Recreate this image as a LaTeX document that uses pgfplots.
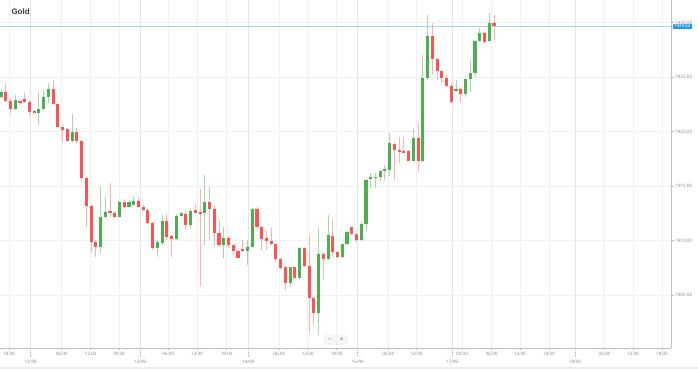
\documentclass[border=0pt]{standalone}
\usepackage{pgfplots}
\pgfplotsset{compat=1.18}
\usepackage{pgfplotstable}
\usepackage{fontspec}
\setmainfont{Noto Sans}
\newfontfamily\titlefont{Liberation Sans}

\definecolor{cred}{HTML}{FF5252}
\definecolor{cgreen}{HTML}{4CAF50}
\definecolor{credw}{HTML}{FFB0B0}
\definecolor{cgreenw}{HTML}{A8D8AA}
\definecolor{gridc}{HTML}{F0F0F0}
\definecolor{gridd}{HTML}{E4E4E4}
\definecolor{axc}{HTML}{BDBDBD}
\definecolor{tickc}{HTML}{8A8A8A}
\definecolor{pricel}{HTML}{A6D4F2}
\definecolor{priceb}{HTML}{2196F3}

% columns: index open high low close
\pgfplotstableread{
i o h l c
1 1923.65 1924.48 1922.73 1922.83
2 1922.83 1923.07 1921.70 1922.04
4 1922.83 1922.89 1922.52 1922.59
5 1922.95 1923.53 1922.61 1922.73
6 1922.73 1922.89 1921.51 1921.82
7 1921.88 1921.97 1921.65 1921.72
11 1923.90 1924.72 1922.43 1922.50
12 1922.50 1922.57 1920.41 1920.44
13 1920.44 1920.60 1919.06 1920.14
14 1920.20 1920.32 1919.04 1919.16
16 1919.98 1920.29 1918.94 1919.16
17 1919.16 1919.22 1915.39 1915.71
18 1915.76 1915.83 1911.27 1913.17
19 1913.17 1913.26 1908.85 1909.89
20 1909.89 1910.05 1908.51 1909.43
23 1912.71 1915.25 1912.18 1912.50
24 1912.55 1912.61 1912.04 1912.18
26 1913.56 1913.72 1912.95 1913.10
29 1913.65 1914.02 1912.98 1913.05
30 1913.10 1913.26 1912.71 1912.80
31 1912.80 1912.89 1911.51 1911.63
32 1911.63 1911.70 1909.13 1909.28
35 1911.82 1912.43 1910.05 1910.35
36 1910.41 1910.50 1908.51 1910.11
39 1912.43 1912.80 1910.96 1911.42
41 1912.80 1913.32 1912.50 1912.55
42 1912.59 1914.70 1905.83 1912.52
44 1913.56 1914.94 1910.05 1912.89
45 1912.89 1913.26 1909.43 1910.66
46 1910.66 1911.88 1909.43 1909.59
48 1910.26 1910.41 1909.28 1909.59
49 1909.59 1909.68 1908.67 1909.04
50 1909.06 1909.13 1908.35 1908.42
51 1909.19 1910.05 1908.99 1909.06
54 1912.86 1913.10 1910.96 1911.27
55 1911.27 1911.33 1909.13 1910.14
56 1910.20 1910.96 1909.13 1909.95
57 1909.95 1911.12 1909.59 1909.68
58 1909.68 1909.77 1908.06 1908.28
59 1908.28 1908.35 1907.29 1907.50
60 1907.54 1907.66 1905.46 1906.13
62 1907.54 1907.61 1906.47 1906.53
64 1909.28 1909.36 1907.57 1907.66
65 1907.66 1910.50 1901.49 1904.75
66 1904.75 1904.81 1902.25 1903.32
68 1908.73 1908.81 1906.38 1908.28
70 1910.44 1911.88 1908.51 1908.97
71 1908.97 1909.04 1908.37 1908.51
74 1911.21 1911.28 1910.50 1910.60
75 1910.60 1910.64 1909.89 1910.05
83 1918.85 1919.06 1915.55 1918.30
84 1918.30 1919.47 1917.08 1918.21
85 1918.21 1919.47 1918.00 1918.12
86 1918.24 1918.30 1917.25 1917.32
88 1919.43 1920.81 1916.31 1917.32
91 1928.76 1929.93 1925.18 1926.62
92 1926.62 1926.74 1924.72 1925.58
93 1925.58 1925.64 1924.42 1924.88
94 1924.88 1925.18 1924.05 1924.17
95 1924.17 1924.57 1922.59 1922.73
97 1923.87 1924.11 1922.73 1923.44
102 1929.01 1929.13 1928.09 1928.24
104 1929.98 1930.69 1928.39 1929.64
}\redtab

\pgfplotstableread{
i o h l c
0 1923.19 1923.81 1923.07 1923.62
3 1922.04 1923.35 1921.97 1922.89
8 1921.72 1923.65 1920.60 1922.06
9 1922.06 1923.81 1921.97 1923.19
10 1923.19 1924.48 1922.61 1923.90
15 1919.16 1921.61 1918.94 1919.98
21 1909.43 1914.94 1908.85 1912.16
22 1912.16 1914.02 1912.06 1912.64
25 1912.18 1913.62 1912.11 1913.56
27 1913.10 1913.67 1913.03 1913.56
28 1913.26 1914.08 1913.17 1913.65
33 1909.28 1910.05 1908.51 1909.89
34 1909.80 1912.34 1909.59 1911.82
37 1910.11 1912.43 1910.05 1912.25
38 1912.28 1912.61 1912.20 1912.50
40 1911.42 1912.89 1911.12 1912.73
43 1912.50 1916.01 1909.59 1913.56
47 1909.59 1911.27 1908.37 1910.26
52 1909.06 1910.05 1907.75 1909.43
53 1909.43 1912.95 1909.36 1912.86
61 1906.07 1907.60 1905.76 1907.54
63 1906.53 1909.36 1906.47 1909.28
67 1903.32 1911.12 1901.33 1908.73
69 1908.28 1912.34 1908.21 1910.48
72 1908.51 1909.72 1908.44 1909.65
73 1909.65 1910.90 1909.59 1910.81
76 1910.05 1911.73 1910.00 1911.49
77 1911.49 1915.64 1910.96 1915.55
78 1915.61 1916.16 1914.84 1915.80
79 1915.73 1916.19 1914.82 1915.85
80 1915.85 1916.47 1915.37 1916.40
81 1916.44 1916.93 1915.55 1916.50
82 1916.47 1919.84 1915.92 1918.92
87 1917.32 1920.20 1917.25 1919.43
89 1917.32 1927.02 1917.20 1924.88
90 1924.88 1930.69 1924.72 1928.76
96 1923.74 1924.72 1923.65 1923.87
98 1923.44 1924.88 1923.19 1924.79
99 1924.79 1926.56 1923.65 1925.39
100 1925.39 1928.39 1925.03 1928.33
101 1928.33 1929.47 1928.24 1929.01
103 1928.33 1930.84 1928.24 1929.98
}\greentab

\begin{document}
\begin{tikzpicture}
\begin{axis}[
  at={(0,21bp)}, anchor=south west,
  scale only axis, width=671bp, height=348bp,
  xmin=-0.211, xmax=141.35, ymin=1900.14, ymax=1932.06,
  axis x line*=bottom, axis y line*=right,
  axis line style={axc, line width=1bp},
  xtick={1.69,12.81,18.88,24.89,35.30,41.35,47.62,58.71,64.70,70.82,81.71,87.70,97.26,103.52,109.49,115.61,127.32,133.33,139.45},
  xticklabels={18:00,06:00,12:00,18:00,06:00,12:00,18:00,06:00,12:00,18:00,06:00,12:00,00:00,06:00,12:00,18:00,06:00,12:00,18:00},
  extra x ticks={6.27,29.32,52.17,75.25,95.15,121.10},
  extra x tick labels={12/09,13/09,14/09,15/09,17/09,19/09},
  extra x tick style={grid style={gridd, line width=0.7bp}, major tick length=9bp, tick style={axc, densely dotted, line width=0.6bp}, xticklabel style={yshift=-2bp}},
  ytick={1905,1910,1915,1920,1925,1930},
  yticklabel pos=right,
  yticklabel style={inner sep=1.5bp, /pgf/number format/.cd, fixed, fixed zerofill, precision=2, 1000 sep={}},
  /pgf/number format/assume math mode=true,
  grid=major, grid style={gridc, line width=0.7bp},
  tick align=outside, major tick length=2.5bp,
  tick style={axc, line width=0.6bp},
  ticklabel style={font=\fontsize{4.6}{5}\selectfont, text=tickc},
  xticklabel style={inner sep=1bp},
  clip=true,
]
% current price line
\addplot[pricel, line width=1.3bp, forget plot] coordinates {(-1,1929.64) (142,1929.64)};
% wicks
\addplot[draw=none, mark=none, forget plot,
  error bars/.cd, y dir=both, y explicit, error mark=none,
  error bar style={draw=credw, line width=0.9bp}]
  table[x=i, y=l, y error plus expr=\thisrow{h}-\thisrow{l}, y error minus expr=0] {\redtab};
\addplot[draw=none, mark=none, forget plot,
  error bars/.cd, y dir=both, y explicit, error mark=none,
  error bar style={draw=cgreenw, line width=0.9bp}]
  table[x=i, y=l, y error plus expr=\thisrow{h}-\thisrow{l}, y error minus expr=0] {\greentab};
% bodies
\addplot[draw=none, mark=none, forget plot,
  error bars/.cd, y dir=both, y explicit, error mark=none,
  error bar style={draw=cred, line width=3.1bp}]
  table[x=i, y expr=(\thisrow{o}+\thisrow{c})/2,
        y error plus expr={max(abs(\thisrow{c}-\thisrow{o})/2,0.07)},
        y error minus expr={max(abs(\thisrow{c}-\thisrow{o})/2,0.07)}] {\redtab};
\addplot[draw=none, mark=none, forget plot,
  error bars/.cd, y dir=both, y explicit, error mark=none,
  error bar style={draw=cgreen, line width=3.1bp}]
  table[x=i, y expr=(\thisrow{o}+\thisrow{c})/2,
        y error plus expr={max(abs(\thisrow{c}-\thisrow{o})/2,0.07)},
        y error minus expr={max(abs(\thisrow{c}-\thisrow{o})/2,0.07)}] {\greentab};
\coordinate (pricept) at (axis cs:141.35,1929.64);
\end{axis}
% price label
\node[fill=priceb, text=white, font=\fontsize{4.4}{5}\selectfont, inner xsep=1.5bp, inner ysep=1.2bp, anchor=west] at ([xshift=1.5bp]pricept) {1929.64};
% title
\node[font=\titlefont\fontsize{8}{9}\selectfont\bfseries, text=black!78, anchor=west] at (8bp,357.5bp) {Gold};
% zoom buttons
\draw[black!12, fill=black!4, rounded corners=1bp] (324bp,24.7bp) rectangle (335bp,33.3bp);
\draw[black!12, fill=black!4, rounded corners=1bp] (336bp,24.7bp) rectangle (347bp,33.3bp);
\node[font=\fontsize{6}{6}\selectfont, text=black!70] at (329.5bp,29bp) {−};
\node[font=\fontsize{6}{6}\selectfont, text=black!70] at (341.5bp,29bp) {+};
% bottom border
\fill[black!7] (0,0) rectangle (698bp,2.3bp);
\pgfresetboundingbox
\path[use as bounding box] (0,0) rectangle (698bp,369bp);
\end{tikzpicture}
\end{document}
